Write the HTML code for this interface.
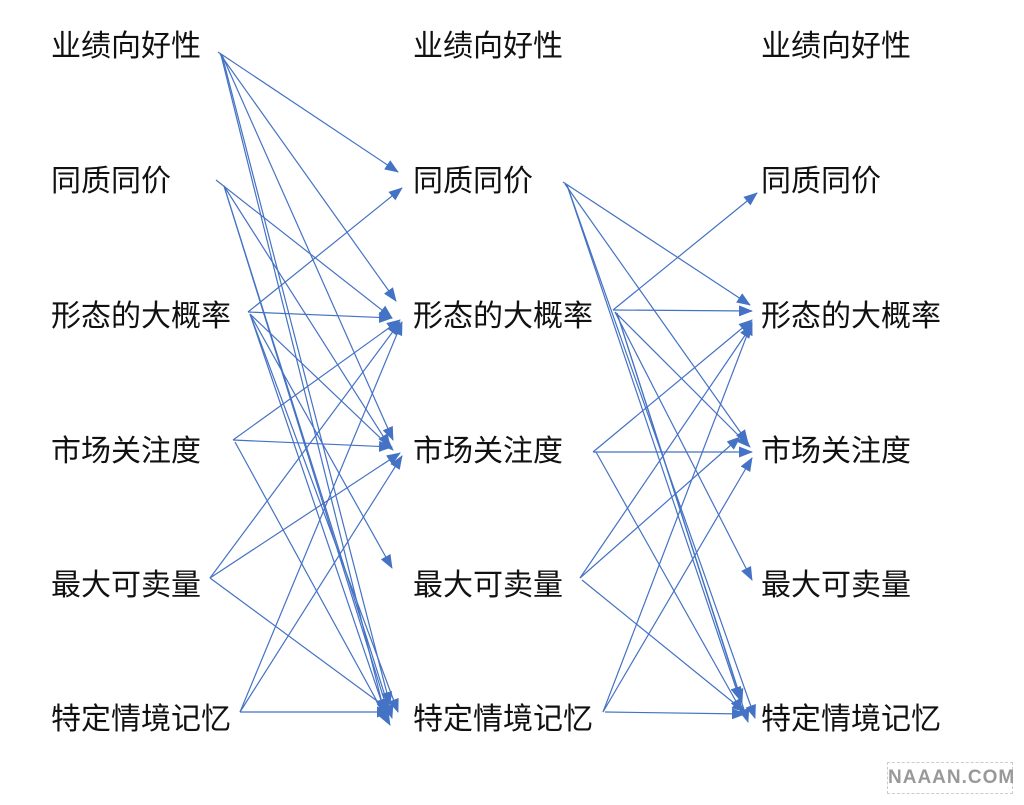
<!DOCTYPE html>
<html><head><meta charset="utf-8"><style>
body{margin:0;background:#fff;width:1024px;height:805px;overflow:hidden;position:relative;font-family:"Liberation Sans","Noto Sans CJK SC",sans-serif}
.t{position:absolute;font-size:30px;color:#111;line-height:1}
svg{position:absolute;left:0;top:0}
.wm{position:absolute;left:887px;top:762px;width:124px;height:30px;border:1px dashed #ccc;color:#999;font-size:19px;font-weight:bold;text-align:center;line-height:30px;letter-spacing:1px}
</style></head><body>
<div class="t" style="left:51px;top:32px">业绩向好性</div>
<div class="t" style="left:51px;top:167px">同质同价</div>
<div class="t" style="left:51px;top:302px">形态的大概率</div>
<div class="t" style="left:51px;top:437px">市场关注度</div>
<div class="t" style="left:51px;top:571px">最大可卖量</div>
<div class="t" style="left:51px;top:705px">特定情境记忆</div>
<div class="t" style="left:413px;top:32px">业绩向好性</div>
<div class="t" style="left:413px;top:167px">同质同价</div>
<div class="t" style="left:413px;top:302px">形态的大概率</div>
<div class="t" style="left:413px;top:437px">市场关注度</div>
<div class="t" style="left:413px;top:571px">最大可卖量</div>
<div class="t" style="left:413px;top:705px">特定情境记忆</div>
<div class="t" style="left:761px;top:32px">业绩向好性</div>
<div class="t" style="left:761px;top:167px">同质同价</div>
<div class="t" style="left:761px;top:302px">形态的大概率</div>
<div class="t" style="left:761px;top:437px">市场关注度</div>
<div class="t" style="left:761px;top:571px">最大可卖量</div>
<div class="t" style="left:761px;top:705px">特定情境记忆</div>
<svg width="1024" height="805">
<defs><marker id="a" markerWidth="14" markerHeight="11" refX="13" refY="5.5" orient="auto" markerUnits="userSpaceOnUse"><path d="M0,0L14,5.5L0,11z" fill="#4472C4"/></marker></defs>
<g stroke="#4472C4" stroke-width="1.2" fill="none" marker-end="url(#a)">
<line x1="218" y1="52" x2="398" y2="172"/>
<line x1="220" y1="54" x2="396" y2="301"/>
<line x1="222" y1="55" x2="393" y2="440"/>
<line x1="222" y1="55" x2="390" y2="705"/>
<line x1="221" y1="55" x2="385" y2="715"/>
<line x1="216" y1="180" x2="392" y2="318"/>
<line x1="224" y1="186" x2="390" y2="447"/>
<line x1="224" y1="186" x2="388" y2="712"/>
<line x1="224" y1="186" x2="392" y2="718"/>
<line x1="248" y1="312" x2="402" y2="188"/>
<line x1="248" y1="312" x2="392" y2="318"/>
<line x1="250" y1="314" x2="393" y2="450"/>
<line x1="250" y1="314" x2="392" y2="568"/>
<line x1="250" y1="314" x2="385" y2="712"/>
<line x1="250" y1="314" x2="398" y2="712"/>
<line x1="233" y1="440" x2="392" y2="447"/>
<line x1="233" y1="440" x2="400" y2="320"/>
<line x1="235" y1="442" x2="390" y2="725"/>
<line x1="210" y1="578" x2="400" y2="322"/>
<line x1="210" y1="578" x2="400" y2="453"/>
<line x1="210" y1="578" x2="392" y2="712"/>
<line x1="240" y1="712" x2="402" y2="322"/>
<line x1="240" y1="712" x2="402" y2="456"/>
<line x1="240" y1="712" x2="390" y2="712"/>
<line x1="563" y1="182" x2="750" y2="305"/>
<line x1="565" y1="184" x2="748" y2="443"/>
<line x1="567" y1="185" x2="740" y2="700"/>
<line x1="567" y1="185" x2="755" y2="718"/>
<line x1="613" y1="310" x2="757" y2="193"/>
<line x1="613" y1="310" x2="752" y2="311"/>
<line x1="615" y1="312" x2="750" y2="447"/>
<line x1="615" y1="312" x2="752" y2="580"/>
<line x1="617" y1="313" x2="742" y2="702"/>
<line x1="617" y1="313" x2="748" y2="722"/>
<line x1="593" y1="452" x2="752" y2="320"/>
<line x1="593" y1="452" x2="752" y2="452"/>
<line x1="596" y1="452" x2="742" y2="712"/>
<line x1="580" y1="578" x2="752" y2="325"/>
<line x1="580" y1="578" x2="740" y2="437"/>
<line x1="582" y1="580" x2="745" y2="712"/>
<line x1="603" y1="712" x2="752" y2="322"/>
<line x1="603" y1="712" x2="752" y2="458"/>
<line x1="605" y1="712" x2="745" y2="714"/>
</g></svg>
<div class="wm">NAAAN.COM</div>
</body></html>
